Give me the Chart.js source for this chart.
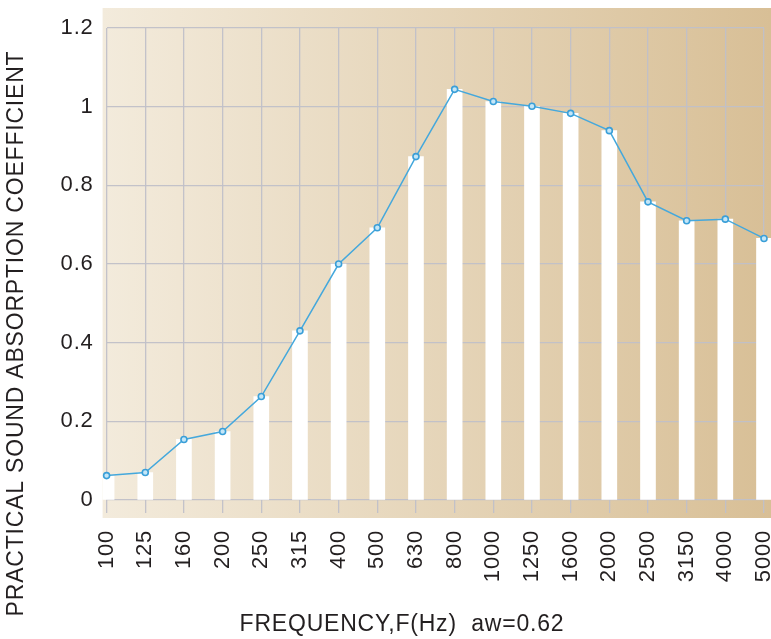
<!DOCTYPE html>
<html>
<head>
<meta charset="utf-8">
<script src="https://cdn.jsdelivr.net/npm/chart.js@4/dist/chart.umd.min.js"></script>
<style>
  html, body { margin: 0; padding: 0; background: #fff; }
  #wrap { width: 771px; height: 639px; }
</style>
</head>
<body>
<div id="wrap"><canvas id="absorptionChart"></canvas></div>
<script>
const frequencies = ['100', '125', '160', '200', '250', '315', '400', '500', '630',
    '800', '1000', '1250', '1600', '2000', '2500', '3150', '4000', '5000'];
const absorption = [0.062, 0.070, 0.154, 0.174, 0.263, 0.430, 0.600, 0.692, 0.873,
    1.044, 1.013, 1.001, 0.983, 0.939, 0.758, 0.710, 0.714, 0.665];
const yTicks = [0, 0.2, 0.4, 0.6, 0.8, 1, 1.2];

const textColor = '#231f20';
const gridColor = 'rgba(192, 192, 200, 0.95)';
const fontFamily = "'Liberation Sans', Arial, sans-serif";

// tan paper behind the plot, a bit larger than the chart area
const paperBackground = {
    id: 'paperBackground',
    beforeLayout(chart) {
        chart.ctx.letterSpacing = '0.8px';
    },
    beforeDraw(chart) {
        const { ctx, chartArea: a } = chart;
        ctx.letterSpacing = '0.8px';
        const left = a.left - 4, right = a.right + 7;
        const g = ctx.createLinearGradient(left, 0, right, 0);
        g.addColorStop(0, '#f3ebdc');
        g.addColorStop(1, '#d8bf96');
        ctx.save();
        ctx.fillStyle = g;
        ctx.fillRect(left, a.top - 20, right - left, a.bottom - a.top + 38);
        ctx.restore();
    }
};

const ctx = document.getElementById('absorptionChart').getContext('2d');
new Chart(ctx, {
    type: 'bar',
    data: {
        labels: frequencies,
        datasets: [{
            type: 'line',
            data: absorption,
            borderColor: '#45a8dc',
            borderWidth: 1.5,
            pointRadius: 3,
            pointBorderWidth: 1.6,
            pointBackgroundColor: '#c4e6f7',
            pointBorderColor: '#3a9fd8',
            tension: 0,
            order: 0
        }, {
            type: 'bar',
            data: absorption,
            backgroundColor: '#ffffff',
            barThickness: 15,
            clip: { left: 4, right: 7, top: 20, bottom: 0 },
            order: 1
        }]
    },
    plugins: [paperBackground],
    options: {
        responsive: true,
        maintainAspectRatio: false,
        animation: false,
        layout: { padding: { top: 28, left: 0, right: -33, bottom: 0 } },
        plugins: {
            legend: { display: false },
            tooltip: { enabled: false },
            title: {
                display: true,
                position: 'left',
                text: 'PRACTICAL SOUND ABSORPTION COEFFICIENT',
                color: textColor,
                font: { family: fontFamily, size: 23, weight: 'normal', lineHeight: 1.2 },
                padding: { top: 3, bottom: 30 }
            },
            subtitle: {
                display: true,
                position: 'bottom',
                text: 'FREQUENCY,F(Hz)  aw=0.62',
                color: textColor,
                font: { family: fontFamily, size: 23, weight: 'normal', lineHeight: 1.2 },
                padding: { top: 29, bottom: 0.4 }
            }
        },
        scales: {
            x: {
                offset: false,
                grid: {
                    offset: false,
                    color: gridColor,
                    lineWidth: 1.3,
                    drawTicks: true,
                    tickLength: 13,
                    tickColor: gridColor
                },
                border: { display: false },
                ticks: {
                    color: textColor,
                    font: { family: fontFamily, size: 22 },
                    maxRotation: 90,
                    minRotation: 90,
                    autoSkip: false,
                    padding: 17
                },
                afterFit(s) {
                    s.height = 82;
                    s.paddingLeft = 0;
                    s.paddingRight = 7;
                }
            },
            y: {
                min: 0,
                max: 1.2,
                grid: {
                    color: gridColor,
                    lineWidth: 1.3,
                    drawTicks: false
                },
                border: { display: false },
                ticks: {
                    color: textColor,
                    font: { family: fontFamily, size: 22 },
                    padding: 13,
                    callback: v => String(+v.toFixed(1))
                },
                afterBuildTicks(s) {
                    s.ticks = yTicks.map(v => ({ value: v }));
                },
                afterFit(s) {
                    s.width = 46;
                }
            }
        }
    }
});
</script>
</body>
</html>
